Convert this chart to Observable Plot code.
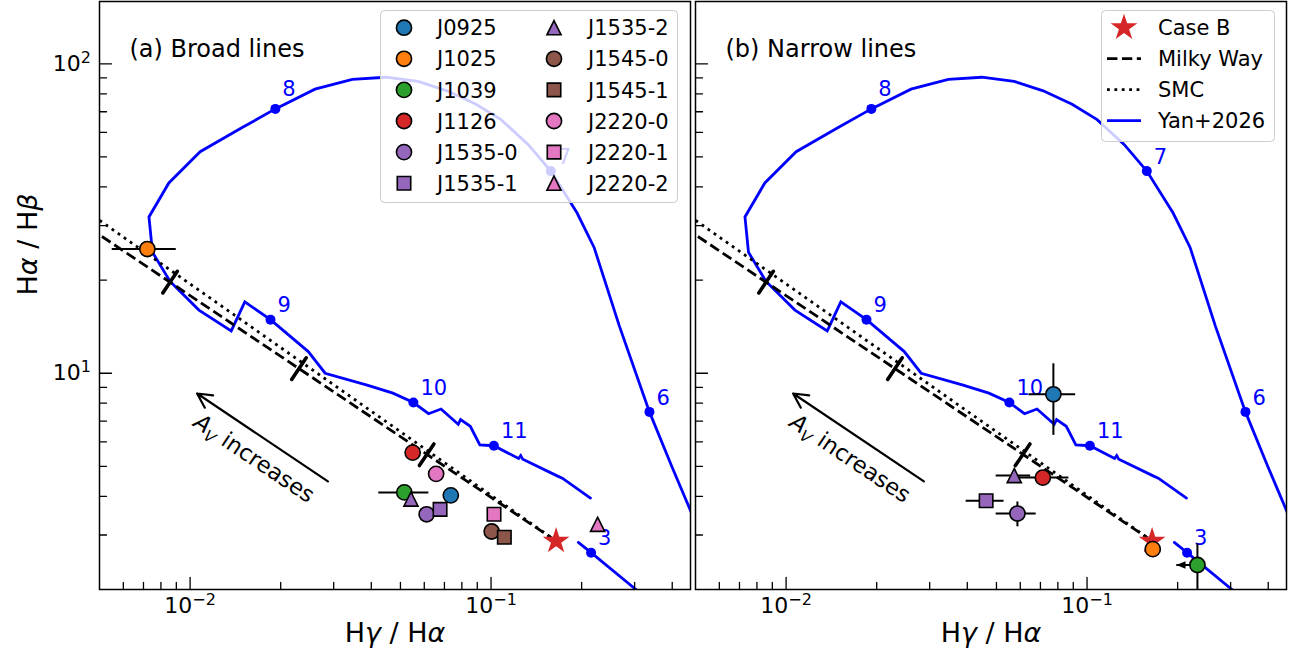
<!DOCTYPE html>
<html>
<head>
<meta charset="utf-8">
<script src="https://cdn.jsdelivr.net/npm/d3@7"></script>
<script src="https://cdn.jsdelivr.net/npm/@observablehq/plot@0.6"></script>
<style>
  html, body { margin: 0; padding: 0; background: #ffffff; }
  #fig { position: relative; width: 1298px; height: 657px; overflow: hidden; font-family: "DejaVu Sans", sans-serif; background: #fff; }
  #fig > svg { position: absolute; top: 0; }
</style>
</head>
<body>
<div id="fig"></div>
<script>
// ---------------- data ----------------
const xDomain = [0.005, 0.46];
const yDomain = [2, 159];

const xMajorTicks = [0.01, 0.1];
const xMajorLabels = ["10^\u22122", "10^\u22121"];
const xMinorTicks = [0.006, 0.007, 0.008, 0.009, 0.02, 0.03, 0.04, 0.05, 0.06, 0.07, 0.08, 0.09, 0.2, 0.3, 0.4];
const yMajorTicks = [10, 100];
const yMajorLabels = ["10^1", "10^2"];
const yMinorTicks = [3, 4, 5, 6, 7, 8, 9, 20, 30, 40, 50, 60, 70, 80, 90];

const xLabel = "H\u03b3 / H\u03b1";
const yLabel = "H\u03b1 / H\u03b2";
const panelTitles = ["(a) Broad lines", "(b) Narrow lines"];

// Yan+2026 model track (Hγ/Hα, Hα/Hβ)
const modelX = [0.195, 0.215, 0.303, 0.355, 0.6, 0.6, 0.5, 0.40, 0.336, 0.267, 0.22, 0.193, 0.158, 0.133, 0.108, 0.0892, 0.0715, 0.0572, 0.0447, 0.0346, 0.0260, 0.0192, 0.0148, 0.0108, 0.0085, 0.0073, 0.0075, 0.00858, 0.0107, 0.0137, 0.0152, 0.0185, 0.0247, 0.0281, 0.0385, 0.0472, 0.0552, 0.0620, 0.0682, 0.0778, 0.0792, 0.0853, 0.0918, 0.1022, 0.1235, 0.1255, 0.1275, 0.1665, 0.1725, 0.214];
const modelY = [2.84, 2.63, 2.0, 1.765, 1.8, 2.5, 2.97, 4.96, 7.5, 14.2, 25.5, 33.0, 45.0, 54.8, 66.0, 74.0, 81.8, 87.8, 90.5, 89.0, 82.8, 71.5, 62.0, 52.0, 41.2, 32.0, 24.6, 19.8, 16.0, 13.7, 17.0, 14.9, 11.75, 10.0, 9.17, 8.62, 8.04, 7.40, 7.66, 6.84, 7.08, 6.74, 5.87, 5.83, 5.30, 5.42, 5.27, 4.65, 4.58, 3.95];
const modelMarkX = [0.215, 0.336, 0.158, 0.0192, 0.0185, 0.0552, 0.1022];
const modelMarkY = [2.63, 7.5, 45.0, 71.5, 14.9, 8.04, 5.83];
const modelMarkLabel = ["3", "6", "7", "8", "9", "10", "11"];

// Case B and attenuation curves
const caseBX = 0.1645;
const caseBY = 2.87;
const mwX = [0.1645, 0.005];
const mwY = [2.87, 28.0];
const smcX = [0.1645, 0.005];
const smcY = [2.87, 31.2];
const avTickX = [0.00858, 0.023, 0.0611];
const avTickY = [19.7, 10.35, 5.45];
const avArrowX = [0.0287, 0.01055];
const avArrowY = [4.47, 8.6];
const avLabel = "A_V increases";
const avLabelX = 0.01632;
const avLabelY = 5.30;

// sources
const sources = ["J0925", "J1025", "J1039", "J1126", "J1535-0", "J1535-1", "J1535-2", "J1545-0", "J1545-1", "J2220-0", "J2220-1", "J2220-2"];
const sourceColors = ["#1f77b4", "#ff7f0e", "#2ca02c", "#d62728", "#9467bd", "#9467bd", "#9467bd", "#8c564b", "#8c564b", "#e377c2", "#e377c2", "#e377c2"];
const sourceShapes = ["circle", "circle", "circle", "circle", "circle", "square", "triangle", "circle", "square", "circle", "square", "triangle"];

// (a) broad lines
const broadName = ["J0925", "J1025", "J1039", "J1126", "J1535-0", "J1535-1", "J1535-2", "J1545-0", "J1545-1", "J2220-0", "J2220-1", "J2220-2"];
const broadX = [0.0735, 0.00721, 0.0515, 0.0549, 0.0611, 0.0677, 0.0542, 0.1005, 0.1107, 0.0657, 0.1023, 0.226];
const broadY = [4.03, 25.2, 4.12, 5.54, 3.50, 3.63, 3.92, 3.08, 2.95, 4.73, 3.50, 3.25];
const broadXLo = [null, 0.00549, 0.0422, null, null, null, null, null, null, null, null, null];
const broadXHi = [null, 0.00896, 0.0619, null, null, null, null, null, null, null, null, null];
const broadYLo = [null, 24.0, null, null, null, null, null, null, null, null, null, null];
const broadYHi = [null, 26.4, null, null, null, null, null, null, null, null, null, null];
const broadXUpper = [null, null, null, null, null, null, null, null, null, null, null, null];

// (b) narrow lines
const narrowName = ["J0925", "J1025", "J1039", "J1126", "J1535-0", "J1535-1", "J1535-2"];
const narrowX = [0.0773, 0.1653, 0.2327, 0.0713, 0.0587, 0.0462, 0.0573];
const narrowY = [8.55, 2.70, 2.40, 4.60, 3.52, 3.87, 4.67];
const narrowXLo = [0.0639, null, null, 0.0592, 0.0497, 0.0395, 0.0497];
const narrowXHi = [0.0913, null, null, 0.0867, 0.0675, 0.0528, 0.0647];
const narrowYLo = [6.32, null, 1.9, null, 3.20, 3.68, 4.45];
const narrowYHi = [10.77, null, 2.82, null, 3.85, 4.05, 4.90];
const narrowXUpper = [null, null, 0.198, null, null, null, null];

const rightLegendLabels = ["Case B", "Milky Way", "SMC", "Yan+2026"];

// ---------------- styles / helpers ----------------
const BLUE = "#0000ff";
const STAR_RED = "#d62728";
const NS = "http://www.w3.org/2000/svg";

const tickShape = {draw(ctx, l) { ctx.moveTo(0, 0); ctx.lineTo(0, -l); }};
const triangleSym = {draw(ctx, size) {
  const r = Math.sqrt(size / Math.PI), a = r * 0.93;
  ctx.moveTo(0, -a); ctx.lineTo(a, a); ctx.lineTo(-a, a); ctx.closePath();
}};
const leftArrowSym = {draw(ctx, size) {
  const r = Math.sqrt(size / Math.PI);
  ctx.moveTo(-r, 0); ctx.lineTo(r, -r * 0.8); ctx.lineTo(r, r * 0.8); ctx.closePath();
}};
const plotSymbol = s => s === "triangle" ? triangleSym : s;
const d3Symbol = s => s === "triangle" ? triangleSym : s === "square" ? d3.symbolSquare : d3.symbolCircle;

function makePanel(cfg) {
  const pts = cfg.names.map((n, i) => {
    const k = sources.indexOf(n);
    return {name: n, x: cfg.xs[i], y: cfg.ys[i], color: sourceColors[k], shape: sourceShapes[k]};
  });
  const xErr = cfg.names.map((n, i) => ({y: cfg.ys[i], lo: cfg.xlo[i], hi: cfg.xhi[i]})).filter(d => d.lo != null);
  const yErr = cfg.names.map((n, i) => ({x: cfg.xs[i], lo: cfg.ylo[i], hi: cfg.yhi[i]})).filter(d => d.lo != null);
  const ul = cfg.names.map((n, i) => ({x: cfg.xs[i], y: cfg.ys[i], lim: cfg.xul[i]})).filter(d => d.lim != null);
  const model = modelX.map((x, i) => ({x, y: modelY[i]}));
  const mMarks = modelMarkX.map((x, i) => ({x, y: modelMarkY[i], label: modelMarkLabel[i]}));
  const mw = mwX.map((x, i) => ({x, y: mwY[i]}));
  const smc = smcX.map((x, i) => ({x, y: smcY[i]}));
  const avT = avTickX.map((x, i) => ({x, y: avTickY[i]}));

  const marks = [
    Plot.line(model, {x: "x", y: "y", stroke: BLUE, strokeWidth: 2.8, strokeLinejoin: "miter", strokeMiterlimit: 4, clip: true}),
    Plot.dot(mMarks, {x: "x", y: "y", r: 5, fill: BLUE}),
    Plot.text(mMarks.filter(d => d.label !== "8"), {x: "x", y: "y", text: "label", dx: 7, dy: -14, textAnchor: "start", fill: BLUE, fontSize: 21}),
    Plot.text(mMarks.filter(d => d.label === "8"), {x: "x", y: "y", text: "label", dx: 7, dy: -20, textAnchor: "start", fill: BLUE, fontSize: 21}),
    Plot.line(mw, {x: "x", y: "y", stroke: "black", strokeWidth: 2.8, strokeDasharray: "10.4,4.5", strokeLinecap: "butt", clip: true}),
    Plot.line(smc, {x: "x", y: "y", stroke: "black", strokeWidth: 2.8, strokeDasharray: "2.8,4.6", strokeLinecap: "butt", clip: true}),
    Plot.vector(avT, {x: "x", y: "y", rotate: 34, length: 26, anchor: "middle", shape: tickShape, stroke: "black", strokeWidth: 3.6}),
    Plot.arrow([0], {x1: () => avArrowX[0], y1: () => avArrowY[0], x2: () => avArrowX[1], y2: () => avArrowY[1], stroke: "black", strokeWidth: 2.2, headLength: 11, headAngle: 55}),
    Plot.text([avLabel], {x: () => avLabelX, y: () => avLabelY, text: d => d, rotate: 34, fontSize: 22.5}),
    Plot.dot([0], {x: () => caseBX, y: () => caseBY, symbol: "star", r: 8.4, fill: STAR_RED}),
    Plot.link(xErr, {x1: "lo", x2: "hi", y1: "y", y2: "y", stroke: "black", strokeWidth: 2, clip: true}),
    Plot.link(yErr, {x1: "x", x2: "x", y1: "lo", y2: "hi", stroke: "black", strokeWidth: 2, clip: true}),
    Plot.link(ul, {x1: "x", x2: "lim", y1: "y", y2: "y", stroke: "black", strokeWidth: 2}),
    Plot.dot(ul, {x: "lim", y: "y", symbol: leftArrowSym, r: 4.6, fill: "black", dx: 4.6}),
    ...pts.map(p => Plot.dot([p], {x: "x", y: "y", r: 7.6, symbol: plotSymbol(p.shape), fill: p.color, stroke: "black", strokeWidth: 1.6})),
    Plot.text([cfg.title], {text: d => d, frameAnchor: "top-left", dx: 30, dy: 38, textAnchor: "start", fontSize: 24}),
    Plot.text([xLabel], {text: d => d, frameAnchor: "bottom", dy: 52, lineAnchor: "bottom", fontSize: 27}),
    Plot.vector(xMinorTicks, {x: d => d, frameAnchor: "bottom", anchor: "start", length: 7, shape: tickShape, stroke: "black", strokeWidth: 1.3}),
    Plot.vector(xMajorTicks, {x: d => d, frameAnchor: "bottom", anchor: "start", length: 12, shape: tickShape, stroke: "black", strokeWidth: 1.3}),
    Plot.vector(yMinorTicks, {y: d => d, frameAnchor: "left", anchor: "start", rotate: 90, length: 7, shape: tickShape, stroke: "black", strokeWidth: 1.3}),
    Plot.vector(yMajorTicks, {y: d => d, frameAnchor: "left", anchor: "start", rotate: 90, length: 12, shape: tickShape, stroke: "black", strokeWidth: 1.3}),
    Plot.axisX({ticks: xMajorTicks, tickSize: 0, tickPadding: 8, fontSize: 22, label: null, tickFormat: d => xMajorLabels[xMajorTicks.indexOf(d)]}),
    Plot.frame({stroke: "black", strokeWidth: 1.5})
  ];
  if (cfg.showY) {
    marks.push(Plot.axisY({ticks: yMajorTicks, tickSize: 0, tickPadding: 8.5, fontSize: 22, label: null, tickFormat: d => yMajorLabels[yMajorTicks.indexOf(d)]}));
    marks.push(Plot.text([yLabel], {text: d => d, frameAnchor: "left", dx: -71, rotate: -90, fontSize: 27}));
  }
  const svg = Plot.plot({
    width: cfg.width, height: 657,
    marginLeft: cfg.marginLeft, marginRight: cfg.marginRight, marginTop: 1, marginBottom: 68,
    x: {type: "log", domain: xDomain},
    y: {type: "log", domain: yDomain, axis: cfg.showY ? undefined : null},
    style: {fontFamily: "DejaVu Sans", fontSize: "22px", color: "black", background: "white", overflow: "visible"},
    marks
  });
  svg.style.left = cfg.left + "px";
  fixTexts(svg);
  return svg;
}

function addSpan(t, txt, attrs = {}) {
  const s = document.createElementNS(NS, "tspan");
  for (const [k, v] of Object.entries(attrs)) s.setAttribute(k, v);
  s.textContent = txt;
  t.appendChild(s);
}

function fixTexts(svg) {
  svg.querySelectorAll("text").forEach(t => {
    const s = t.textContent;
    let m;
    if ((m = /^10\^(.+)$/.exec(s))) {
      t.textContent = "";
      addSpan(t, "10");
      addSpan(t, m[1], {dy: "-8", "font-size": "16"});
    } else if (s === avLabel) {
      t.textContent = "";
      addSpan(t, "A", {"font-style": "italic"});
      addSpan(t, "V", {"font-style": "italic", "font-size": "15.5", dy: "5"});
      addSpan(t, " increases", {dy: "-5"});
    } else if (/[\u03b1\u03b2\u03b3]/.test(s)) {
      t.textContent = "";
      for (const ch of s) {
        if (/[\u03b1\u03b2\u03b3]/.test(ch)) addSpan(t, ch, {"font-style": "italic"});
        else addSpan(t, ch);
      }
    }
  });
}

const fig = document.getElementById("fig");
fig.appendChild(makePanel({
  title: panelTitles[0], names: broadName, xs: broadX, ys: broadY,
  xlo: broadXLo, xhi: broadXHi, ylo: broadYLo, yhi: broadYHi, xul: broadXUpper,
  showY: true, width: 692, marginLeft: 99, marginRight: 2, left: 0
}));
fig.appendChild(makePanel({
  title: panelTitles[1], names: narrowName, xs: narrowX, ys: narrowY,
  xlo: narrowXLo, xhi: narrowXHi, ylo: narrowYLo, yhi: narrowYHi, xul: narrowXUpper,
  showY: false, width: 606, marginLeft: 3, marginRight: 12, left: 692
}));

// ---------------- legends ----------------
const lg = d3.select(fig).append("svg")
  .attr("width", 1298).attr("height", 657)
  .style("left", "0px").style("pointer-events", "none")
  .attr("font-family", "DejaVu Sans");

lg.append("rect").attr("x", 380.5).attr("y", 10.5).attr("width", 297).attr("height", 192).attr("rx", 4)
  .attr("fill", "white").attr("fill-opacity", 0.8).attr("stroke", "#cccccc").attr("stroke-width", 1);
sources.forEach((n, k) => {
  const col = Math.floor(k / 6), row = k % 6;
  const cx = 404 + col * 150, cy = 27.7 + row * 31.1;
  lg.append("path").attr("d", d3.symbol(d3Symbol(sourceShapes[k]), Math.PI * 7.6 * 7.6)())
    .attr("transform", `translate(${cx},${cy})`)
    .attr("fill", sourceColors[k]).attr("stroke", "black").attr("stroke-width", 1.6);
  lg.append("text").attr("x", 437 + col * 151).attr("y", cy + 7.6).attr("font-size", 21).attr("fill", "black").text(n);
});

lg.append("rect").attr("x", 1101.5).attr("y", 10.5).attr("width", 173).attr("height", 131).attr("rx", 4)
  .attr("fill", "white").attr("fill-opacity", 0.8).attr("stroke", "#cccccc").attr("stroke-width", 1);
const rowsY = rightLegendLabels.map((_, i) => 27.7 + i * 31);
lg.append("path").attr("d", d3.symbol(d3.symbolStar, Math.PI * 8.4 * 8.4)())
  .attr("transform", `translate(1124,${rowsY[0]})`).attr("fill", STAR_RED);
lg.append("line").attr("x1", 1107).attr("x2", 1141).attr("y1", rowsY[1]).attr("y2", rowsY[1])
  .attr("stroke", "black").attr("stroke-width", 2.8).attr("stroke-dasharray", "10.4,4.5");
lg.append("line").attr("x1", 1107).attr("x2", 1141).attr("y1", rowsY[2]).attr("y2", rowsY[2])
  .attr("stroke", "black").attr("stroke-width", 2.8).attr("stroke-dasharray", "2.8,4.6");
lg.append("line").attr("x1", 1107).attr("x2", 1141).attr("y1", rowsY[3]).attr("y2", rowsY[3])
  .attr("stroke", BLUE).attr("stroke-width", 2.8);
rightLegendLabels.forEach((t, i) => {
  lg.append("text").attr("x", 1158).attr("y", rowsY[i] + 7.6).attr("font-size", 21).attr("fill", "black").text(t);
});
</script>
</body>
</html>
